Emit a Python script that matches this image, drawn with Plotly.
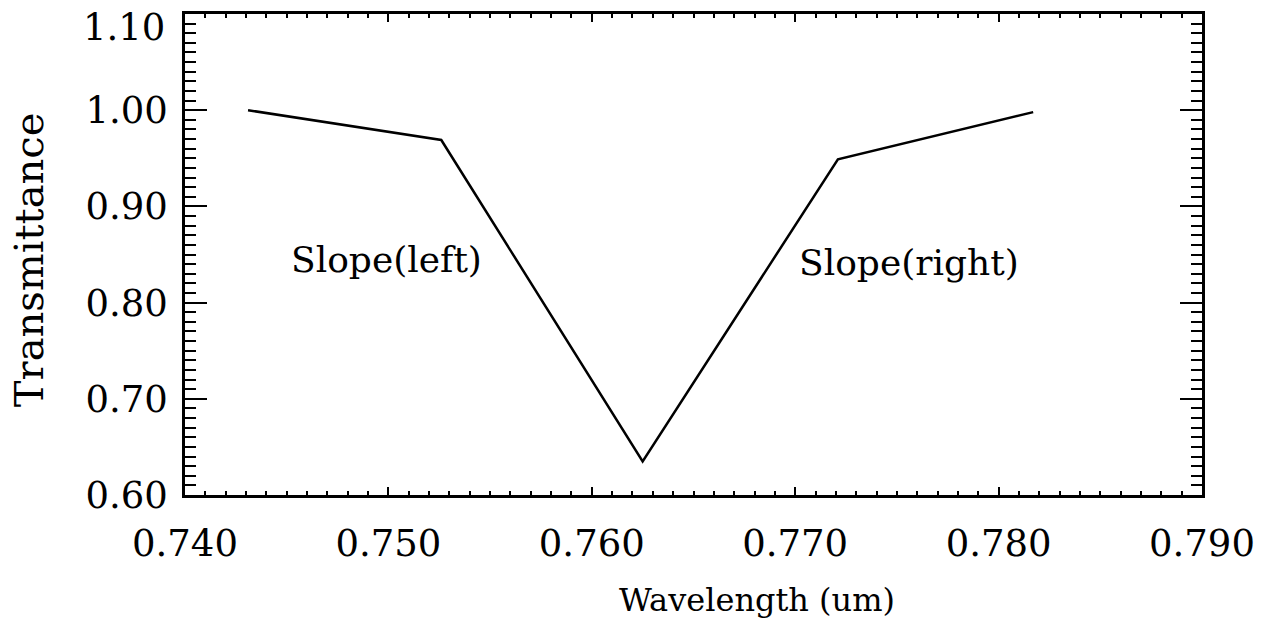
import plotly.graph_objects as go

# Data
wavelength = [0.7431, 0.7526, 0.7625, 0.7721, 0.7817]
transmittance = [1.000, 0.969, 0.635, 0.949, 0.998]

x_ticks = [0.740, 0.750, 0.760, 0.770, 0.780, 0.790]
y_ticks = [0.60, 0.70, 0.80, 0.90, 1.00, 1.10]

label_text = ["Slope(left)", "Slope(right)"]
label_x = [0.7499, 0.7756]
label_y = [0.845, 0.842]

serif = "DejaVu Serif"

fig = go.Figure()
fig.add_trace(go.Scatter(x=wavelength, y=transmittance, mode="lines",
                         line=dict(color="black", width=2.5), showlegend=False))

for t, x, y in zip(label_text, label_x, label_y):
    fig.add_annotation(x=x, y=y, text=t, showarrow=False,
                       font=dict(family=serif, size=36, color="black"))

# axis titles placed as annotations (the x title sits right of centre in the original)
fig.add_annotation(xref="paper", yref="paper", x=0.562, y=-0.218, text="Wavelength (um)",
                   xanchor="center", yanchor="middle",
                   showarrow=False, font=dict(family=serif, size=32, color="black"))
fig.add_annotation(xref="paper", yref="paper", x=-0.154, y=0.489, text="Transmittance",
                   xanchor="center", yanchor="middle", textangle=-90,
                   showarrow=False, font=dict(family=serif, size=40, color="black"))

# the top y label sits a little below its tick in the original (it would hit the page edge)
y_text = ["%.2f" % v for v in y_ticks[:-1]] + [""]
fig.add_annotation(xref="paper", yref="y", x=0, y=y_ticks[-1], text="%.2f" % y_ticks[-1],
                   xanchor="right", yanchor="middle", xshift=-18, yshift=-13,
                   showarrow=False, font=dict(family=serif, size=37, color="black"))

fig.update_xaxes(range=[0.74, 0.79], tickvals=x_ticks, tickformat=".3f",
                 showline=True, linewidth=2.5, linecolor="black", mirror="ticks",
                 ticks="inside", ticklen=8, tickwidth=2, tickcolor="black",
                 minor=dict(dtick=0.001, tick0=0.74, ticks="inside", ticklen=4, tickwidth=1.5, tickcolor="black"),
                 showgrid=False, zeroline=False, automargin=False,
                 ticklabelstandoff=14, ticklabeloverflow="allow",
                 tickfont=dict(family=serif, size=37, color="black"))
fig.update_yaxes(range=[0.6, 1.1], tickvals=y_ticks, ticktext=y_text,
                 showline=True, linewidth=2.5, linecolor="black", mirror="ticks",
                 ticks="inside", ticklen=22, tickwidth=2, tickcolor="black",
                 minor=dict(dtick=0.01, tick0=0.6, ticks="inside", ticklen=11, tickwidth=1.5, tickcolor="black"),
                 showgrid=False, zeroline=False, automargin=False,
                 ticklabelstandoff=7, ticklabeloverflow="allow",
                 tickfont=dict(family=serif, size=37, color="black"))

fig.update_layout(width=1276, height=623, plot_bgcolor="white", paper_bgcolor="white",
                  margin=dict(l=185, r=74, t=14, b=128))

# drop the browser's default 8px body margin so the figure fills the window
fig.write_html("out.html", config={"displayModeBar": False},
               post_script="document.body.style.margin='0px';")
